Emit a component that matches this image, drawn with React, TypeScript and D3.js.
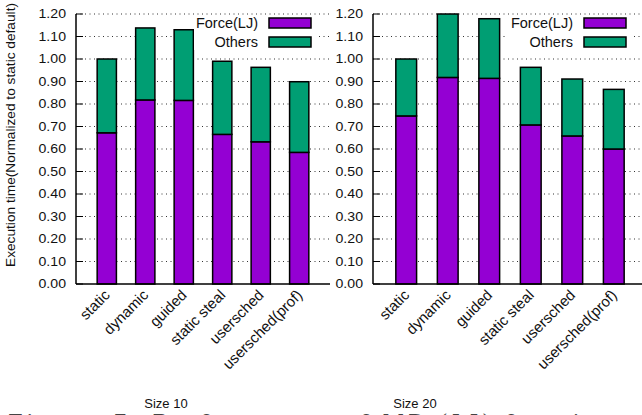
import React from "react";
import * as d3 from "d3";

const categories = ["static", "dynamic", "guided", "static steal", "usersched", "usersched(prof)"];
const size10Force = [0.672, 0.818, 0.816, 0.665, 0.632, 0.585];
const size10Others = [0.328, 0.320, 0.314, 0.325, 0.331, 0.314];
const size20Force = [0.747, 0.918, 0.914, 0.707, 0.658, 0.600];
const size20Others = [0.253, 0.282, 0.265, 0.256, 0.253, 0.265];
const yTicks = [0, 0.1, 0.2, 0.3, 0.4, 0.5, 0.6, 0.7, 0.8, 0.9, 1.0, 1.1, 1.2];
const seriesNames = ["Force(LJ)", "Others"];
const panelTitles = ["Size 10", "Size 20"];
const yTitle = "Execution time(Normalized to static default)";

const COLORS = ["#9400d3", "#009e73"];
const FONT = "'Liberation Sans', Arial, Helvetica, sans-serif";

const W = 642;
const H = 415;
const yTop = 14;
const yBot = 284;

type PanelProps = {
  x0: number;
  x1: number;
  force: number[];
  others: number[];
  title: string;
  titleX: number;
  legendBox: [number, number];
  clipRight: number;
};

function Panel({ x0, x1, force, others, title, titleX, legendBox, clipRight }: PanelProps) {
  const x = d3.scaleLinear().domain([-0.8, 5.8]).range([x0, x1]);
  const y = d3.scaleLinear().domain([0, 1.2]).range([yBot, yTop]);
  const bw = x(0.5) - x(0);
  const stack = d3.stack<number>().keys(["f", "o"]).value((i, k) => (k === "f" ? force[i] : others[i]));
  const series = stack(d3.range(categories.length));
  const gridRight = Math.min(x1, clipRight);
  const [lbL, lbR] = legendBox;
  const textEnd = lbR - 60;
  const swL = lbR - 49;
  const swR = lbR - 7;
  return (
    <g>
      {yTicks.slice(1).map((t) => (
        <line key={"g" + t} x1={x0} x2={gridRight} y1={y(t)} y2={y(t)} stroke="#333" strokeWidth={1} strokeDasharray="1,3.5" />
      ))}
      {yTicks.map((t) => (
        <g key={"t" + t}>
          <line x1={x0} x2={x0 + 7} y1={y(t)} y2={y(t)} stroke="#000" strokeWidth={1} />
          <text x={x0 - 10} y={y(t)} dy="0.35em" textAnchor="end" fontSize={12.8} fontFamily={FONT} fill="#111" textLength={27.5} lengthAdjust="spacingAndGlyphs">
            {t.toFixed(2)}
          </text>
        </g>
      ))}
      {series.map((s, si) =>
        s.map((d, i) => (
          <rect
            key={si + "-" + i}
            x={x(i) - bw / 2}
            y={y(d[1])}
            width={bw}
            height={y(d[0]) - y(d[1])}
            fill={COLORS[si]}
            stroke="#000"
            strokeWidth={1.5}
          />
        ))
      )}
      <line x1={x0} x2={x0} y1={yTop} y2={yBot} stroke="#000" strokeWidth={1.5} />
      <line x1={x0} x2={gridRight} y1={yBot} y2={yBot} stroke="#000" strokeWidth={1.5} />
      {categories.map((c, i) => (
        <text
          key={"c" + i}
          transform={`translate(${x(i) + 4},${yBot + 12}) rotate(-45)`}
          textAnchor="end"
          fontSize={15}
          fontFamily={FONT}
          fill="#111"
        >
          {c}
        </text>
      ))}
      <rect x={lbL} y={16} width={lbR - lbL} height={34} fill="#fff" />
      {seriesNames.map((n, i) => (
        <g key={"l" + i}>
          <text x={textEnd} y={23 + i * 19} dy="0.36em" textAnchor="end" fontSize={14.5} fontFamily={FONT} fill="#111">
            {n}
          </text>
          <rect x={swL} y={18 + i * 19} width={swR - swL} height={10} fill={COLORS[i]} stroke="#000" strokeWidth={1.5} />
        </g>
      ))}
      <text x={titleX} y={408} textAnchor="middle" fontSize={13} fontFamily={FONT} fill="#111">
        {title}
      </text>
    </g>
  );
}

export default function App() {
  return (
    <div style={{ position: "fixed", left: 0, top: 0, width: W, height: H, background: "#fff" }}>
      <svg width={W} height={H} viewBox={`0 0 ${W} ${H}`} style={{ display: "block" }}>
        <rect width={W} height={H} fill="#fff" />
        <text
          transform={`translate(15,135) rotate(-90)`}
          textAnchor="middle"
          fontSize={13.7}
          fontFamily={FONT}
          fill="#111"
        >
          {yTitle}
        </text>
        <Panel x0={76} x1={330} force={size10Force} others={size10Others} title={panelTitles[0]} titleX={166} legendBox={[194, 318]} clipRight={330} />
        <Panel x0={373} x1={647} force={size20Force} others={size20Others} title={panelTitles[1]} titleX={415} legendBox={[507, 633]} clipRight={642} />
        <text x={8} y={429} fontSize={21} fontFamily="'DejaVu Serif', 'Liberation Serif', serif" fill="#444" letterSpacing={4}>
          Figure 7: Performance of MD (LJ) for sizes and schedulers
        </text>
      </svg>
    </div>
  );
}
